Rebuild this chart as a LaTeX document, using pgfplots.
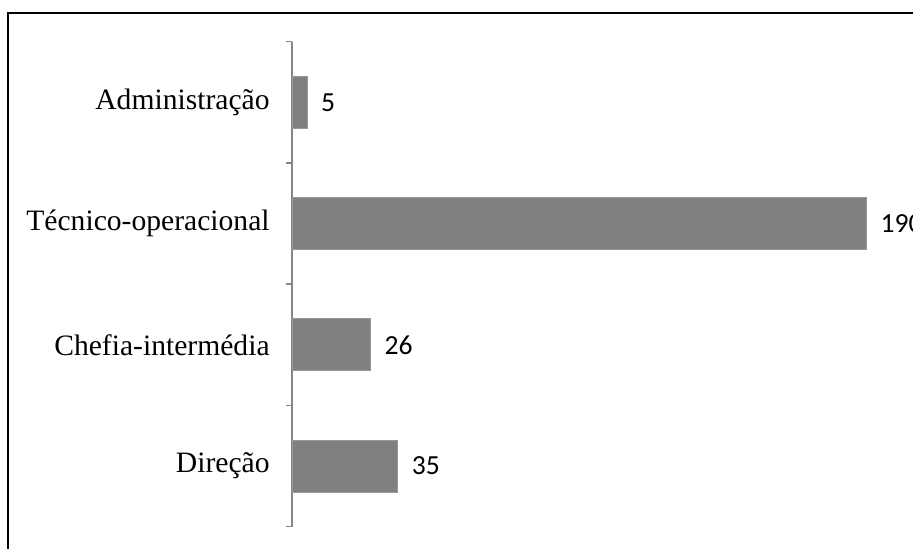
\documentclass[border=0pt]{standalone}
\usepackage{fontspec}
\setmainfont{Liberation Serif}
\newfontfamily\tnr{Liberation Serif}
\newfontfamily\calibri{Carlito}
\usepackage{pgfplots}
\pgfplotsset{compat=1.18}
\definecolor{barg}{RGB}{128,128,128}
\definecolor{axg}{RGB}{134,134,134}
\begin{document}
\begin{tikzpicture}
\useasboundingbox (0,0) rectangle (456.5pt,274.5pt);
\draw[line width=1pt] (4.15pt,0) -- (4.15pt,267.85pt) -- (456.5pt,267.85pt);
\begin{axis}[
  at={(146pt,11.15pt)}, anchor=south west,
  scale only axis, width=310.5pt, height=242.5pt,
  xbar, bar width=26pt,
  xmin=0, xmax=205.3, ymin=-0.5, ymax=3.5,
  axis x line=none,
  axis y line=left, axis line style={-, draw=axg, line width=0.8pt},
  ytick={0,1,2,3}, yticklabels={Direção,Chefia-intermédia,Técnico-operacional,Administração},
  major tick length=0pt,
  minor ytick={-0.5,0.5,1.5,2.5,3.5}, minor tick length=3pt, tick align=outside,
  minor tick style={draw=axg, line width=0.8pt},
  yticklabel style={font=\tnr\fontsize{14.8}{17}\selectfont, inner sep=0pt, xshift=-11pt},
  nodes near coords={\pgfmathprintnumber[assume math mode=true]{\pgfplotspointmeta}},
  nodes near coords style={font=\calibri\fontsize{13.8}{16}\selectfont, anchor=west, inner sep=0pt, xshift=6.8pt, text=black},
  clip=false,
]
\addplot[fill=barg, draw=barg!80!white] coordinates {(35,0) (26,1) (190,2) (5,3)};
\end{axis}
\end{tikzpicture}
\end{document}
